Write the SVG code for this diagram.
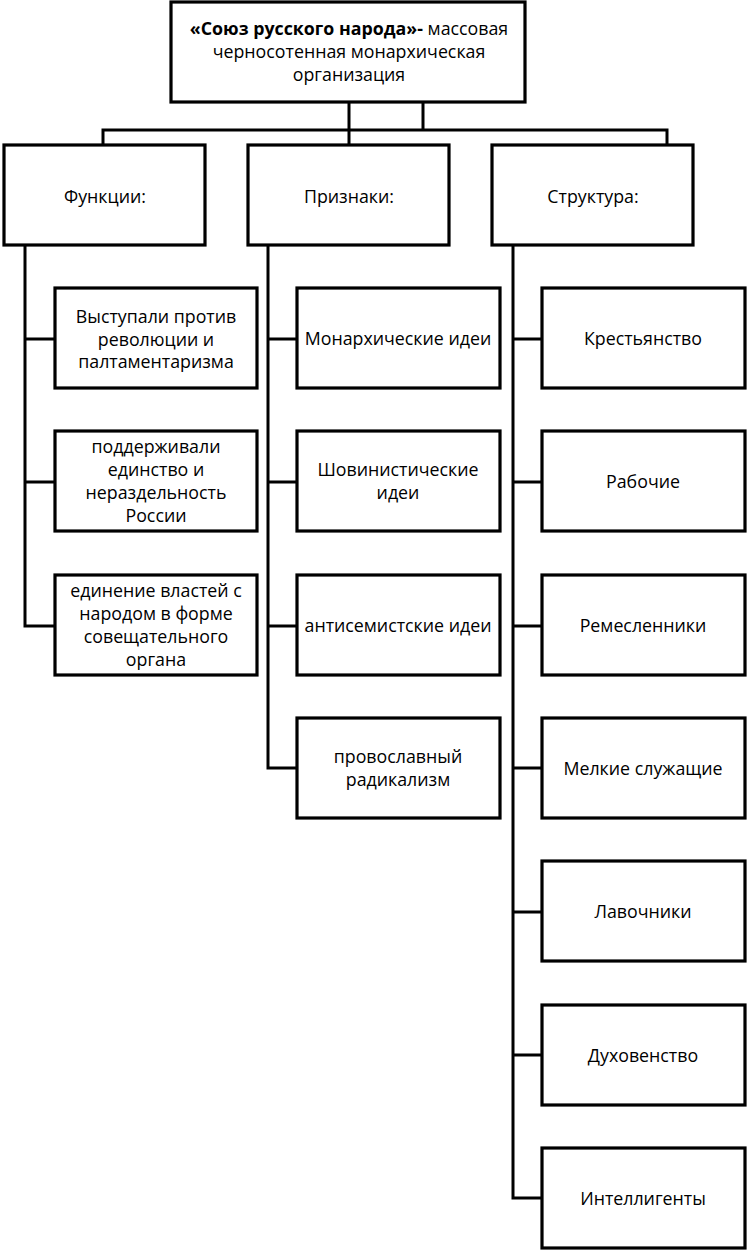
<svg xmlns="http://www.w3.org/2000/svg" width="750" height="1251" viewBox="0 0 750 1251">
<style>
.box{fill:#fff;stroke:#000;stroke-width:3.2}
.ln{fill:none;stroke:#000;stroke-width:3;stroke-linecap:square}
text{font-family:"Open Sans","Noto Sans","Liberation Sans",sans-serif;font-size:17.8px;fill:#000;text-anchor:middle}
</style>
<rect width="750" height="1251" fill="#fff"/>
<g id="connectors">
<path class="ln" d="M349,102V145M423,102V130M103,130H667M103,130V145M667,130V145"/>
<path class="ln" d="M25,245V626M25,339H55M25,482H55M25,626H55"/>
<path class="ln" d="M268,245V768M268,339H297M268,482H297M268,626H297M268,768H297"/>
<path class="ln" d="M513,245V1198M513,339H542M513,482H542M513,626H542M513,768H542M513,912H542M513,1055H542M513,1198H542"/>
</g>
<g id="root"><rect class="box" x="171" y="2" width="354" height="100"/>
<text x="349" y="35"><tspan font-weight="bold">«Союз русского народа»-</tspan> массовая</text>
<text x="349" y="58">черносотенная монархическая</text>
<text x="349" y="81">организация</text></g>
<g id="functions"><rect class="box" x="4" y="145" width="201" height="100"/><text x="105" y="203">Функции:</text></g>
<g id="signs"><rect class="box" x="248" y="145" width="201" height="100"/><text x="349" y="203">Признаки:</text></g>
<g id="structure"><rect class="box" x="492" y="145" width="201" height="100"/><text x="593" y="203">Структура:</text></g>

<g id="f1"><rect class="box" x="55" y="288" width="202" height="100"/>
<text x="156" y="323">Выступали против</text><text x="156" y="346">революции и</text><text x="156" y="368">палтаментаризма</text></g>
<g id="f2"><rect class="box" x="55" y="431" width="202" height="100"/>
<text x="156" y="453">поддерживали</text><text x="156" y="476">единство и</text><text x="156" y="499">нераздельность</text><text x="156" y="522">России</text></g>
<g id="f3"><rect class="box" x="55" y="575" width="202" height="100"/>
<text x="156" y="597">единение властей с</text><text x="156" y="620">народом в форме</text><text x="156" y="643">совещательного</text><text x="156" y="666">органа</text></g>

<g id="s1"><rect class="box" x="297" y="288" width="203" height="100"/><text x="398" y="345">Монархические идеи</text></g>
<g id="s2"><rect class="box" x="297" y="431" width="203" height="100"/><text x="398" y="476">Шовинистические</text><text x="398" y="499">идеи</text></g>
<g id="s3"><rect class="box" x="297" y="575" width="203" height="100"/><text x="398" y="632">антисемистские идеи</text></g>
<g id="s4"><rect class="box" x="297" y="718" width="203" height="100"/><text x="398" y="763">провославный</text><text x="398" y="786">радикализм</text></g>

<g id="c1"><rect class="box" x="542" y="288" width="203" height="100"/><text x="643" y="345">Крестьянство</text></g>
<g id="c2"><rect class="box" x="542" y="431" width="203" height="100"/><text x="643" y="488">Рабочие</text></g>
<g id="c3"><rect class="box" x="542" y="575" width="203" height="100"/><text x="643" y="632">Ремесленники</text></g>
<g id="c4"><rect class="box" x="542" y="718" width="203" height="100"/><text x="643" y="775">Мелкие служащие</text></g>
<g id="c5"><rect class="box" x="542" y="861" width="203" height="100"/><text x="643" y="918">Лавочники</text></g>
<g id="c6"><rect class="box" x="542" y="1005" width="203" height="100"/><text x="643" y="1062">Духовенство</text></g>
<g id="c7"><rect class="box" x="542" y="1148" width="203" height="100"/><text x="643" y="1205">Интеллигенты</text></g>
</svg>
